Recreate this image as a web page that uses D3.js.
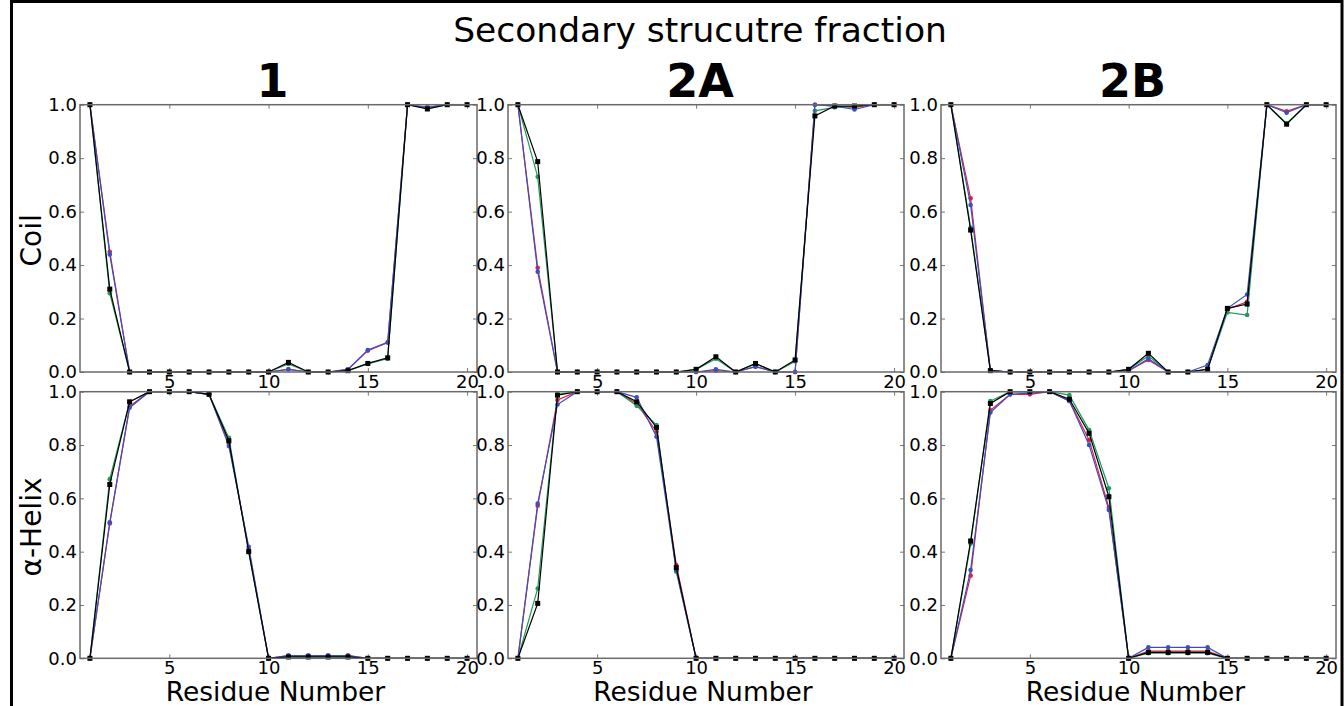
<!DOCTYPE html>
<html>
<head>
<meta charset="utf-8">
<script src="https://cdn.jsdelivr.net/npm/d3@7"></script>
<style>
  html, body { margin: 0; padding: 0; background: #fff; }
  svg { display: block; }
  text { font-family: "DejaVu Sans", sans-serif; }
</style>
</head>
<body>
<svg id="chart" width="1344" height="706"></svg>
<script>
// ---- data ----
const residues = d3.range(1, 21);
const yTicks = [0, 0.2, 0.4, 0.6, 0.8, 1.0];
const xTicks = [5, 10, 15, 20];
const panelTitles = ["1", "2A", "2B"];
const rowLabels = ["Coil", "\u03b1-Helix"];
const seriesNames = ["red", "green", "blue", "black"];

// Coil, panel 1
const coil1_red   = [1.0,0.45,0,0,0,0,0,0,0,0,0.01,0,0,0.01,0.08,0.11,1.0,0.99,1.0,1.0];
const coil1_green = [1.0,0.295,0,0,0,0,0,0,0,0,0.03,0,0,0.005,0.03,0.05,1.0,0.985,1.0,1.0];
const coil1_blue  = [1.0,0.44,0,0,0,0,0,0,0,0,0.01,0,0,0.01,0.082,0.111,1.0,0.99,1.0,1.0];
const coil1_black = [1.0,0.31,0,0,0,0,0,0,0,0,0.036,0,0,0.005,0.032,0.053,1.0,0.984,1.0,1.0];
// Coil, panel 2A
const coil2A_red   = [1.0,0.39,0,0,0,0,0,0,0,0,0.005,0,0.02,0,0,1.0,0.995,0.99,1.0,1.0];
const coil2A_green = [1.0,0.73,0,0,0,0,0,0,0,0.01,0.05,0,0.03,0,0.04,0.977,0.99,0.995,1.0,1.0];
const coil2A_blue  = [1.0,0.375,0,0,0,0,0,0,0,0,0.01,0,0.02,0,0,1.0,0.995,0.982,1.0,1.0];
const coil2A_black = [1.0,0.787,0,0,0,0,0,0,0,0.01,0.057,0,0.032,0,0.045,0.958,0.995,0.995,1.0,1.0];
// Coil, panel 2B
const coil2B_red   = [1.0,0.65,0.005,0,0,0,0,0,0,0.005,0.045,0,0,0.01,0.235,0.263,1.0,0.975,1.0,1.0];
const coil2B_green = [1.0,0.54,0.005,0,0,0,0,0,0,0.01,0.06,0,0,0.01,0.223,0.213,1.0,0.93,1.0,1.0];
const coil2B_blue  = [1.0,0.625,0.005,0,0,0,0,0,0,0.005,0.05,0,0,0.026,0.238,0.29,1.0,0.97,1.0,1.0];
const coil2B_black = [1.0,0.531,0.005,0,0,0,0,0,0,0.01,0.07,0,0,0.01,0.238,0.254,1.0,0.927,1.0,1.0];
// Helix, panel 1
const helix1_red   = [0,0.506,0.945,1,1,1,0.99,0.805,0.41,0,0.01,0.01,0.01,0.01,0,0,0,0,0,0];
const helix1_green = [0,0.672,0.962,1,1,1,0.99,0.827,0.40,0,0.005,0.005,0.005,0.005,0,0,0,0,0,0];
const helix1_blue  = [0,0.51,0.94,1,1,1,0.99,0.796,0.418,0,0.01,0.01,0.01,0.01,0,0,0,0,0,0];
const helix1_black = [0,0.652,0.962,1,1,1,0.99,0.816,0.40,0,0.005,0.005,0.005,0.005,0,0,0,0,0,0];
// Helix, panel 2A
const helix2A_red   = [0,0.572,0.969,1,1,1,0.955,0.85,0.35,0,0,0,0,0,0,0,0,0,0,0];
const helix2A_green = [0,0.262,0.99,1,1,1,0.947,0.875,0.325,0,0,0,0,0,0,0,0,0,0,0];
const helix2A_blue  = [0,0.58,0.952,1,1,1,0.979,0.831,0.33,0,0,0,0,0,0,0,0,0,0,0];
const helix2A_black = [0,0.206,0.987,1,1,1,0.962,0.866,0.34,0,0,0,0,0,0,0,0,0,0,0];
// Helix, panel 2B
const helix2B_red   = [0,0.31,0.93,0.99,0.99,1,0.965,0.819,0.565,0,0.027,0.027,0.027,0.027,0,0,0,0,0,0];
const helix2B_green = [0,0.43,0.965,1,1,1,0.987,0.856,0.638,0,0.019,0.019,0.019,0.019,0,0,0,0,0,0];
const helix2B_blue  = [0,0.331,0.922,0.99,0.995,1,0.965,0.80,0.556,0,0.041,0.041,0.041,0.041,0,0,0,0,0,0];
const helix2B_black = [0,0.44,0.956,1,1,1,0.972,0.844,0.606,0,0.022,0.022,0.022,0.022,0,0,0,0,0,0];

const panels = [
  [ [coil1_red, coil1_green, coil1_blue, coil1_black],
    [coil2A_red, coil2A_green, coil2A_blue, coil2A_black],
    [coil2B_red, coil2B_green, coil2B_blue, coil2B_black] ],
  [ [helix1_red, helix1_green, helix1_blue, helix1_black],
    [helix2A_red, helix2A_green, helix2A_blue, helix2A_black],
    [helix2B_red, helix2B_green, helix2B_blue, helix2B_black] ]
];

// ---- layout ----
const colors = { red: "#e3203f", green: "#1f9a5a", blue: "#3b4fc0", black: "#000000" };
const cols = [[80, 477], [508, 904], [941, 1336]];
const rows = [[104.7, 372], [391.7, 658.3]];

const svg = d3.select("#chart");
svg.append("rect").attr("x", 0).attr("y", 0).attr("width", 1344).attr("height", 706).attr("fill", "#fff");

// outer frame
svg.append("rect").attr("x", 11.5).attr("y", 1.5).attr("width", 1330.5).attr("height", 706)
  .attr("fill", "none").attr("stroke", "#000").attr("stroke-width", 3);

svg.append("text").attr("x", 700).attr("y", 42).attr("text-anchor", "middle")
  .attr("font-size", 34.5).text("Secondary strucutre fraction");

rows.forEach((rr, ri) => {
  cols.forEach((cc, ci) => {
    const x = d3.scaleLinear().domain([0.5, 20.5]).range(cc);
    const y = d3.scaleLinear().domain([0, 1]).range([rr[1], rr[0]]);
    const g = svg.append("g");
    g.append("rect").attr("x", cc[0]).attr("y", rr[0]).attr("width", cc[1]-cc[0]).attr("height", rr[1]-rr[0])
      .attr("fill", "#fff");

    // axes
    const ax = g.append("g").attr("transform", `translate(${cc[0]},0)`)
      .call(d3.axisLeft(y).tickValues(yTicks).tickFormat(d3.format(".1f")).tickSizeInner(-4).tickSizeOuter(0).tickPadding(3));
    const axR = g.append("g").attr("transform", `translate(${cc[1]},0)`)
      .call(d3.axisRight(y).tickValues(yTicks).tickFormat("").tickSizeInner(-4).tickSizeOuter(0));
    const axB = g.append("g").attr("transform", `translate(0,${rr[1]})`)
      .call(d3.axisBottom(x).tickValues(xTicks).tickFormat(d3.format("d")).tickSizeInner(-4).tickSizeOuter(0).tickPadding(3));
    const axT = g.append("g").attr("transform", `translate(0,${rr[0]})`)
      .call(d3.axisTop(x).tickValues(xTicks).tickFormat("").tickSizeInner(-4).tickSizeOuter(0));
    [ax, axR, axB, axT].forEach(a => {
      a.select(".domain").remove();
      a.selectAll(".tick line").attr("stroke", "#777");
      a.selectAll(".tick text").attr("font-size", 18).attr("fill", "#000")
        .attr("font-family", "DejaVu Sans, sans-serif");
    });

    // lines
    const line = d3.line().x((d, i) => x(residues[i])).y(d => y(d));
    panels[ri][ci].forEach((vals, si) => {
      const name = seriesNames[si];
      g.append("path").attr("d", line(vals)).attr("fill", "none")
        .attr("stroke", colors[name]).attr("stroke-width", 1.2);
      if (name === "black") {
        g.selectAll(null).data(vals).enter().append("rect")
          .attr("x", (d, i) => x(residues[i]) - 2.5).attr("y", d => y(d) - 2.5)
          .attr("width", 5).attr("height", 5).attr("fill", "#000");
      } else {
        g.selectAll(null).data(vals).enter().append("circle")
          .attr("cx", (d, i) => x(residues[i])).attr("cy", d => y(d))
          .attr("r", 2.3).attr("fill", colors[name]);
      }
    });

    // frame
    g.append("rect").attr("x", cc[0]).attr("y", rr[0]).attr("width", cc[1]-cc[0]).attr("height", rr[1]-rr[0])
      .attr("fill", "none").attr("stroke", "#6a6a6a").attr("stroke-width", 1.5);

    if (ri === 0) {
      svg.append("text").attr("x", (cc[0]+cc[1])/2 - 6).attr("y", 97).attr("text-anchor", "middle")
        .attr("font-size", 46).attr("font-weight", "bold").text(panelTitles[ci]);
    }
    if (ri === 1) {
      svg.append("text").attr("x", (cc[0]+cc[1])/2 - 3).attr("y", 701).attr("text-anchor", "middle")
        .attr("font-size", 26.5).text("Residue Number");
    }
    if (ci === 0) {
      const cy = (rr[0]+rr[1])/2 + 2;
      svg.append("text").attr("transform", `translate(41,${cy}) rotate(-90)`).attr("text-anchor", "middle")
        .attr("font-size", 28).text(rowLabels[ri]);
    }
  });
});
</script>
</body>
</html>
